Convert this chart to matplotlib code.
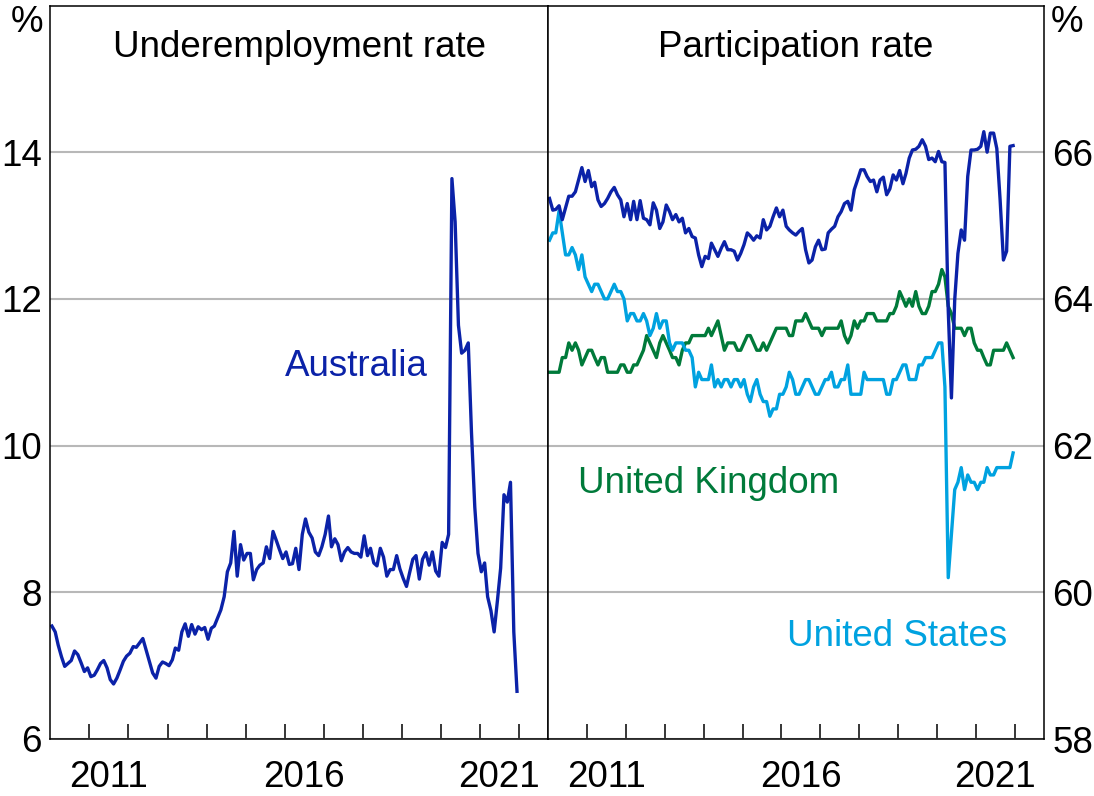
import matplotlib
matplotlib.use("Agg")
import matplotlib.pyplot as plt
import pandas as pd
from datetime import datetime

plt.rcParams['font.family'] = ['Liberation Sans', 'DejaVu Sans']

# ---------------- data (monthly, Jan 2010 - Dec 2021) ----------------
dates = pd.date_range('2010-01-01', '2021-12-01', freq='MS') + pd.Timedelta(days=14)

underemployment_au = [
    7.54, 7.46, 7.28, 7.12, 6.99, 7.03, 7.07, 7.20, 7.15, 7.04,
    6.92, 6.97, 6.85, 6.87, 6.94, 7.03, 7.07, 6.97, 6.81, 6.75,
    6.83, 6.94, 7.06, 7.13, 7.17, 7.26, 7.25, 7.31, 7.37, 7.21,
    7.06, 6.90, 6.83, 6.99, 7.05, 7.03, 7.00, 7.08, 7.24, 7.21,
    7.46, 7.57, 7.40, 7.56, 7.43, 7.53, 7.49, 7.52, 7.36, 7.51,
    7.54, 7.65, 7.76, 7.94, 8.28, 8.40, 8.83, 8.22, 8.65, 8.44,
    8.53, 8.53, 8.17, 8.31, 8.37, 8.40, 8.62, 8.46, 8.83, 8.71,
    8.58, 8.46, 8.55,
    8.38, 8.39, 8.60, 8.31, 8.79, 9.00, 8.82, 8.74, 8.55, 8.50,
    8.62, 8.79, 9.04, 8.62, 8.73, 8.65, 8.43, 8.55, 8.61, 8.55,
    8.53, 8.53, 8.48, 8.77, 8.50, 8.60, 8.40, 8.36, 8.60, 8.48,
    8.22, 8.31, 8.31, 8.50, 8.32, 8.19, 8.08, 8.26, 8.45, 8.50,
    8.18, 8.45, 8.54, 8.37, 8.55, 8.29, 8.22, 8.68, 8.61, 8.79,
    13.64, 13.05, 11.64, 11.26, 11.30, 11.40, 10.18, 9.16, 8.53, 8.28,
    8.40, 7.94, 7.75, 7.46, 7.89, 8.33, 9.33, 9.23, 9.50, 7.46, 6.65,
]

participation_au = [
    65.37, 65.21, 65.22, 65.27, 65.08, 65.24, 65.40, 65.40, 65.46, 65.62,
    65.79, 65.60, 65.75, 65.53, 65.59, 65.35, 65.26, 65.30, 65.37, 65.46,
    65.52, 65.42, 65.35, 65.12, 65.30, 65.08, 65.33, 65.08, 65.34, 65.10,
    65.08, 65.01, 65.31, 65.21, 64.96, 65.05, 65.28, 65.19, 65.08, 65.15,
    65.05, 65.10, 64.90, 64.96, 64.85, 64.83, 64.60, 64.44, 64.58, 64.55,
    64.76, 64.67, 64.58, 64.69, 64.78, 64.67, 64.67, 64.65, 64.53, 64.62,
    64.74, 64.90, 64.86, 64.80, 64.86, 64.83, 65.08, 64.94, 64.99, 65.12,
    65.24, 65.12, 65.21, 64.99, 64.94, 64.90, 64.87, 64.92, 64.96, 64.67,
    64.49, 64.53, 64.71, 64.80, 64.67, 64.68, 64.90, 64.95, 64.99, 65.12,
    65.19, 65.30, 65.33, 65.21, 65.49, 65.62, 65.76, 65.76, 65.67, 65.60,
    65.62, 65.46,
    65.62, 65.66, 65.42, 65.50, 65.69, 65.62, 65.75, 65.57, 65.71, 65.92,
    66.03, 66.04, 66.08, 66.17, 66.08, 65.90, 65.92, 65.87, 66.01, 65.87,
    65.86,
    63.85, 62.65, 63.99, 64.62, 64.94, 64.80, 65.67, 66.03, 66.03, 66.04,
    66.08, 66.28, 66.00, 66.26, 66.26, 66.05, 65.35, 64.53, 64.65, 66.08,
    66.09,
]

participation_uk = [
    63.0, 63.0, 63.0, 63.0, 63.2, 63.2, 63.4, 63.3, 63.4, 63.3,
    63.1, 63.2, 63.3, 63.3, 63.2, 63.1, 63.2, 63.2, 63.0, 63.0,
    63.0, 63.0, 63.1, 63.1, 63.0, 63.0, 63.1, 63.1, 63.2, 63.3,
    63.5, 63.4, 63.3, 63.2, 63.4, 63.5, 63.4, 63.3, 63.2, 63.2,
    63.1, 63.3, 63.4, 63.4, 63.5, 63.5, 63.5, 63.5, 63.5, 63.6,
    63.5, 63.6, 63.7, 63.5, 63.3, 63.4, 63.4, 63.4, 63.3, 63.3,
    63.4, 63.5, 63.5, 63.4, 63.3, 63.3, 63.4, 63.3,
    63.4, 63.5, 63.6, 63.6, 63.6, 63.6, 63.5, 63.5, 63.7, 63.7, 63.7, 63.8,
    63.7, 63.6, 63.6, 63.6, 63.5, 63.6, 63.6, 63.6, 63.6, 63.6,
    63.7, 63.5, 63.4, 63.5, 63.7, 63.6, 63.7, 63.7, 63.8, 63.8, 63.8, 63.7,
    63.7, 63.7, 63.7, 63.8, 63.8, 63.9, 64.1, 64.0, 63.9, 64.0,
    63.9, 64.1, 63.9, 63.8, 63.8, 63.9, 64.1, 64.1, 64.2, 64.4,
    64.3, 63.9, 63.8, 63.6, 63.6, 63.6, 63.5, 63.6, 63.6, 63.4,
    63.3, 63.3, 63.2, 63.1, 63.1, 63.3, 63.3, 63.3, 63.3, 63.4,
    63.3, 63.2,
]

participation_us = [
    64.8, 64.9, 64.9, 65.2, 64.9, 64.6, 64.6, 64.7, 64.6, 64.4,
    64.6, 64.3, 64.2, 64.1, 64.2, 64.2, 64.1, 64.0, 64.0, 64.1,
    64.2, 64.1, 64.1, 64.0, 63.7, 63.8, 63.8, 63.7, 63.7, 63.8,
    63.7, 63.5, 63.6, 63.8, 63.6, 63.7, 63.7, 63.4, 63.3, 63.4,
    63.4, 63.4, 63.3, 63.3, 63.2, 62.8, 63.0, 62.9, 62.9, 62.9,
    63.1, 62.8, 62.9, 62.8, 62.9, 62.9, 62.8, 62.9, 62.9, 62.8,
    62.9, 62.7, 62.6, 62.8, 62.9, 62.7, 62.6, 62.6, 62.4, 62.5,
    62.5, 62.7, 62.7, 62.8, 63.0, 62.9, 62.7, 62.7, 62.8, 62.9,
    62.9, 62.8, 62.7, 62.7, 62.8, 62.9, 62.9, 63.0, 62.8, 62.8,
    62.9, 62.9, 63.1, 62.7, 62.7, 62.7, 62.7, 63.0, 62.9, 62.9,
    62.9, 62.9, 62.9, 62.9, 62.7, 62.7, 62.9, 62.9, 63.0, 63.1,
    63.1, 62.9, 62.9, 62.9, 63.1, 63.1, 63.2, 63.2, 63.2, 63.3,
    63.4, 63.4, 62.8, 60.2, 60.8, 61.4, 61.5, 61.7, 61.4, 61.6,
    61.5, 61.5, 61.4, 61.5, 61.5, 61.7, 61.6, 61.6, 61.7, 61.7,
    61.7, 61.7, 61.7, 61.9,
]

left_yticks = [6, 8, 10, 12, 14]
right_yticks = [58, 60, 62, 64, 66]
left_ylim = (6, 16)
right_ylim = (58, 68)
year_ticks = list(range(2011, 2023))
year_labels = [2011, 2016, 2021]

C_AU = '#0B22A8'
C_UK = '#007A3A'
C_US = '#00A2E0'
GRID = '#b8b8b8'

FS = 26.5
LW = 2.4

# ---------------- figure ----------------
W, H = 1094, 796
fig = plt.figure(figsize=(W / 100, H / 100), dpi=100)
ax_l = fig.add_axes([50.4 / W, 57 / H, 497.6 / W, 733.5 / H])
ax_r = fig.add_axes([548 / W, 57 / H, 496 / W, 733.5 / H])

xlim = (datetime(2010, 1, 1), datetime(2022, 10, 1))

for ax, ylim, yt in ((ax_l, left_ylim, left_yticks), (ax_r, right_ylim, right_yticks)):
    ax.set_xlim(*xlim)
    ax.set_ylim(*ylim)
    ax.set_yticks(yt)
    ax.set_yticklabels([str(v) for v in yt])
    ax.grid(axis='y', color=GRID, lw=1.5)
    ax.set_axisbelow(True)
    ax.set_xticks([datetime(y, 1, 1) for y in year_ticks])
    ax.set_xticklabels([])
    ax.set_xticks([datetime(y, 7, 1) for y in year_labels], minor=True)
    ax.set_xticklabels([str(y) for y in year_labels], minor=True)
    ax.tick_params(axis='x', which='major', direction='in', length=11, width=1.1, color='black')
    ax.tick_params(axis='x', which='minor', length=0, labelsize=FS, pad=15)
    ax.tick_params(axis='y', length=0, labelsize=FS, pad=6)
    for s in ax.spines.values():
        s.set_color('black')
        s.set_linewidth(1.1)

ax_r.yaxis.tick_right()
ax_r.tick_params(axis='y', length=0, labelsize=FS, pad=6)

ax_l.plot(dates, underemployment_au, color=C_AU, lw=LW)
ax_r.plot(dates[:len(participation_uk)], participation_uk, color=C_UK, lw=LW)
ax_r.plot(dates, participation_us, color=C_US, lw=LW)
ax_r.plot(dates, participation_au, color=C_AU, lw=LW)

ax_l.text(0.5, 0.930, 'Underemployment rate', transform=ax_l.transAxes,
          ha='center', va='baseline', fontsize=FS)
ax_r.text(0.5, 0.930, 'Participation rate', transform=ax_r.transAxes,
          ha='center', va='baseline', fontsize=FS)

ax_l.text(datetime(2017, 11, 1), 11.08, 'Australia', color=C_AU, fontsize=FS,
          ha='center', va='center')
ax_r.text(datetime(2014, 2, 15), 61.49, 'United Kingdom', color=C_UK, fontsize=FS,
          ha='center', va='center')
ax_r.text(datetime(2018, 12, 20), 59.40, 'United States', color=C_US, fontsize=FS,
          ha='center', va='center')

fig.text(27 / W, 1 - 23 / H, '%', fontsize=FS, ha='center', va='center')
fig.text(1067 / W, 1 - 23 / H, '%', fontsize=FS, ha='center', va='center')

fig.savefig('out.png', dpi=100)
